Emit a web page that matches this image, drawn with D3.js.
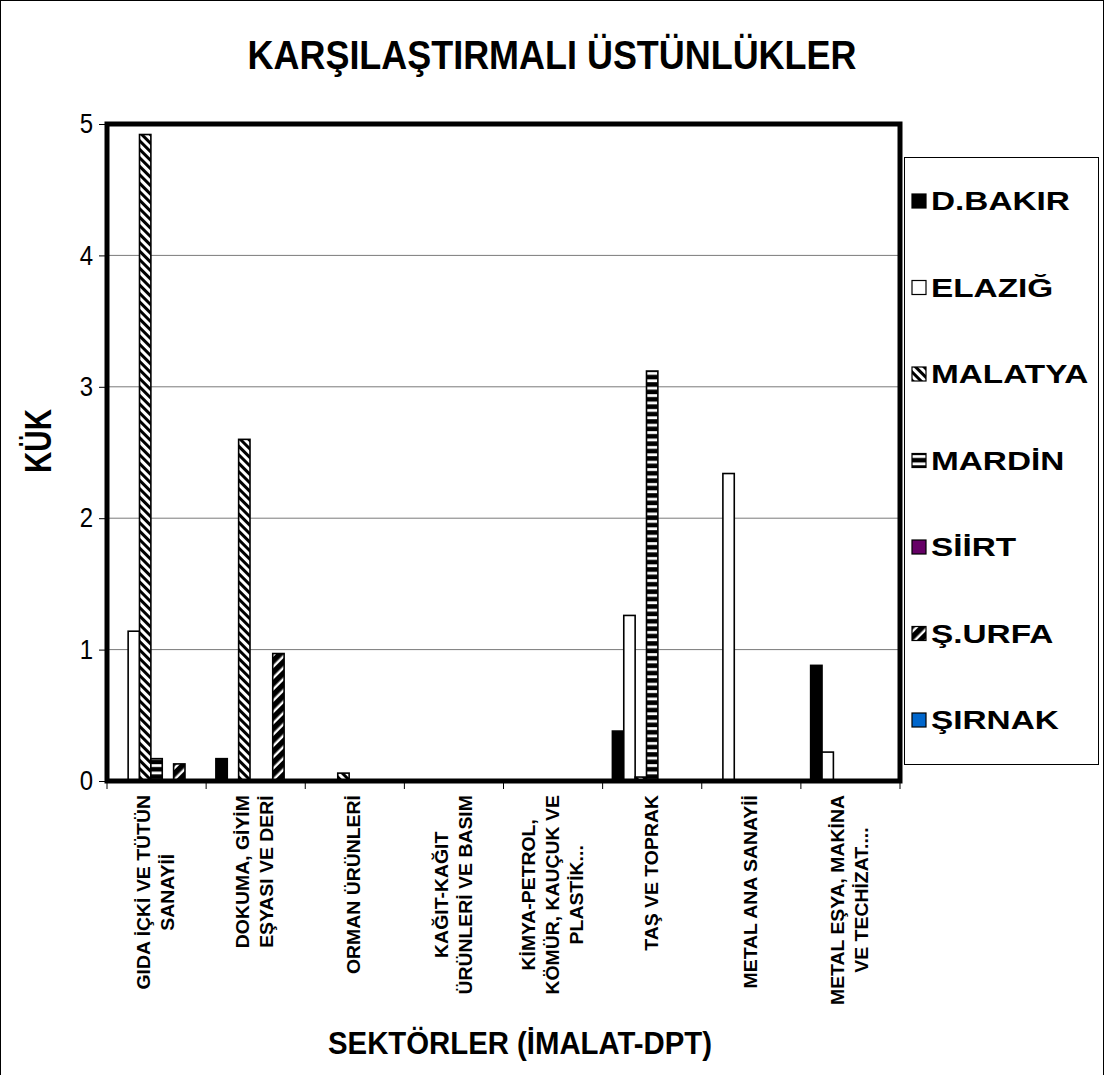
<!DOCTYPE html>
<html>
<head>
<meta charset="utf-8">
<script src="https://cdn.jsdelivr.net/npm/d3@7"></script>
<style>
  html, body { margin: 0; padding: 0; background: #fff; }
  svg { display: block; font-family: "Liberation Sans", Arial, sans-serif; }
</style>
</head>
<body>
<svg id="chart" width="1105" height="1075"></svg>
<script>
// Sector categories (manufacturing, DPT classification)
const categories = ["GIDA", "DOKUMA", "ORMAN", "KAGIT", "KIMYA", "TAS", "METALANA", "METALESYA"];
const categoryLabels = [
  ["GIDA İÇKİ VE TÜTÜN", "SANAYİİ"],
  ["DOKUMA, GİYİM", "EŞYASI VE DERİ"],
  ["ORMAN ÜRÜNLERİ"],
  ["KAĞIT-KAĞIT", "ÜRÜNLERİ  VE BASIM"],
  ["KİMYA-PETROL,", "KÖMÜR, KAUÇUK VE", "PLASTİK..."],
  ["TAŞ VE TOPRAK"],
  ["METAL ANA SANAYİİ"],
  ["METAL EŞYA, MAKİNA", "VE TECHİZAT...."]
];

// Province series (comparative advantage index per sector)
const seriesNames = ["D.BAKIR", "ELAZIĞ", "MALATYA", "MARDİN", "SİİRT", "Ş.URFA", "ŞIRNAK"];
const dbakir  = [0,    0.17, 0,    0, 0, 0.38, 0,    0.88];
const elazig  = [1.14, 0,    0,    0, 0, 1.26, 2.34, 0.22];
const malatya = [4.92, 2.60, 0.06, 0, 0, 0.03, 0,    0];
const mardin  = [0.17, 0,    0,    0, 0, 3.12, 0,    0];
const siirt   = [0,    0,    0,    0, 0, 0,    0,    0];
const surfa   = [0.13, 0.97, 0,    0, 0, 0,    0,    0];
const sirnak  = [0,    0,    0,    0, 0, 0,    0,    0];
const yTicks = [0, 1, 2, 3, 4, 5];

const seriesValues = [dbakir, elazig, malatya, mardin, siirt, surfa, sirnak];
const seriesFills = ["#000000", "#ffffff", "url(#pat-malatya)", "url(#pat-mardin)",
                     "#660066", "url(#pat-surfa)", "#0066cc"];

const svg = d3.select("#chart");

// ---- fill patterns ----
const defs = svg.append("defs");
const pMal = defs.append("pattern").attr("id", "pat-malatya")
  .attr("patternUnits", "userSpaceOnUse").attr("width", 6).attr("height", 6)
  .attr("patternTransform", "rotate(-45)");
pMal.append("rect").attr("width", 6).attr("height", 6).attr("fill", "#fff");
pMal.append("rect").attr("width", 3).attr("height", 6).attr("fill", "#000");

const pSur = defs.append("pattern").attr("id", "pat-surfa")
  .attr("patternUnits", "userSpaceOnUse").attr("width", 8).attr("height", 8)
  .attr("patternTransform", "rotate(45)");
pSur.append("rect").attr("width", 8).attr("height", 8).attr("fill", "#fff");
pSur.append("rect").attr("width", 5.6).attr("height", 8).attr("fill", "#000");

const pMar = defs.append("pattern").attr("id", "pat-mardin")
  .attr("patternUnits", "userSpaceOnUse").attr("width", 10).attr("height", 7.4);
pMar.append("rect").attr("width", 10).attr("height", 7.4).attr("fill", "#000");
pMar.append("rect").attr("y", 2).attr("width", 10).attr("height", 2.8).attr("fill", "#fff");

// ---- outer chart frame ----
svg.append("rect").attr("x", 0.5).attr("y", 0.5).attr("width", 1103).attr("height", 1110)
  .attr("fill", "#fff").attr("stroke", "#000").attr("stroke-width", 1);

// ---- scales ----
const plot = { left: 107, right: 900, top: 124, bottom: 781 };
const x0 = d3.scaleBand().domain(categories).range([plot.left, plot.right]).padding(0);
const x1 = d3.scaleBand().domain(seriesNames).range([0, x0.bandwidth()])
  .paddingInner(0).paddingOuter(0.86);
const y = d3.scaleLinear().domain([0, 5]).range([plot.bottom, plot.top]);

// ---- gridlines ----
svg.append("g").selectAll("line").data(yTicks.filter(t => t > 0 && t < 5)).join("line")
  .attr("x1", plot.left).attr("x2", plot.right)
  .attr("y1", d => y(d)).attr("y2", d => y(d))
  .attr("stroke", "#7a7a7a").attr("stroke-width", 1);

// ---- y axis ----
const yAxis = svg.append("g").attr("transform", `translate(${plot.left},0)`)
  .call(d3.axisLeft(y).tickValues(yTicks).tickSize(8).tickPadding(6).tickFormat(d3.format("d")));
yAxis.select(".domain").remove();
yAxis.selectAll(".tick line").attr("stroke", "#000");
yAxis.selectAll(".tick text")
  .attr("font-size", 24).attr("fill", "#000")
  .attr("transform", "scale(1,1.12)");

// ---- bars ----
const barData = (i) => seriesNames.map((s, k) => ({ key: s, value: seriesValues[k][i], fill: seriesFills[k] }))
  .filter(d => d.value > 0);
svg.append("g").selectAll("g").data(categories).join("g")
  .attr("transform", c => `translate(${x0(c)},0)`)
  .selectAll("rect").data((c, i) => barData(i)).join("rect")
  .attr("x", d => x1(d.key))
  .attr("width", x1.bandwidth())
  .attr("y", d => y(d.value))
  .attr("height", d => y(0) - y(d.value))
  .attr("fill", d => d.fill)
  .attr("stroke", "#000").attr("stroke-width", 1.6);

// ---- x tick marks at category boundaries ----
const bounds = categories.map(c => x0(c)).concat([plot.right]);
svg.append("g").selectAll("line").data(bounds).join("line")
  .attr("x1", d => d).attr("x2", d => d)
  .attr("y1", plot.bottom).attr("y2", plot.bottom + 8)
  .attr("stroke", "#000").attr("stroke-width", 1);

// ---- plot frame ----
svg.append("rect")
  .attr("x", plot.left).attr("y", plot.top)
  .attr("width", plot.right - plot.left).attr("height", plot.bottom - plot.top)
  .attr("fill", "none").attr("stroke", "#000").attr("stroke-width", 5);

// ---- category labels (rotated, centred lines) ----
const labelSize = 18.5, labelStretch = 1.05, lineGap = 24, labelTop = 795;
categories.forEach((c, i) => {
  const lines = categoryLabels[i];
  const cx = x0(c) + x0.bandwidth() / 2;
  const g = svg.append("g");
  const texts = g.selectAll("text").data(lines).join("text")
    .attr("font-size", labelSize).attr("font-weight", "bold")
    .attr("text-anchor", "middle").attr("fill", "#000")
    .attr("dy", "0.36em")
    .text(d => d);
  const maxLen = d3.max(texts.nodes(), n => n.getComputedTextLength());
  g.attr("transform", `translate(${cx - 1},${labelTop}) rotate(-90) scale(${labelStretch},1)`);
  texts.attr("x", -maxLen / 2)
    .attr("y", (d, j) => (j - (lines.length - 1) / 2) * lineGap);
});

// ---- titles ----
function fitText(sel, width) {
  const n = sel.node().getComputedTextLength();
  return width / n;
}
const title = svg.append("text").text("KARŞILAŞTIRMALI ÜSTÜNLÜKLER")
  .attr("font-size", 41).attr("font-weight", "bold").attr("text-anchor", "middle");
title.attr("transform", `translate(552,69) scale(${fitText(title, 609)},1)`);

const xTitle = svg.append("text").text("SEKTÖRLER (İMALAT-DPT)")
  .attr("font-size", 32).attr("font-weight", "bold").attr("text-anchor", "middle");
xTitle.attr("transform", `translate(520,1054) scale(${fitText(xTitle, 384)},1)`);

const yTitle = svg.append("text").text("KÜK")
  .attr("font-size", 36).attr("font-weight", "bold").attr("text-anchor", "middle");
yTitle.attr("transform", `translate(51,441) rotate(-90) scale(${fitText(yTitle, 64)},1)`);

// ---- legend ----
const legend = svg.append("g");
legend.append("rect").attr("x", 904.5).attr("y", 157.5).attr("width", 194).attr("height", 607)
  .attr("fill", "#fff").attr("stroke", "#000").attr("stroke-width", 1);
const ly = d3.scalePoint().domain(seriesNames).range([201, 720]);
const items = legend.selectAll("g.item").data(seriesNames).join("g")
  .attr("transform", s => `translate(912,${ly(s)})`);
items.append("rect").attr("x", 0).attr("y", -7).attr("width", 14).attr("height", 14)
  .attr("fill", (s, k) => seriesFills[k]).attr("stroke", "#000").attr("stroke-width", 1.2);
const ltext = items.append("text").text(s => s)
  .attr("font-size", 26).attr("font-weight", "bold").attr("dy", "0.36em");
const lScale = 139 / ltext.filter(s => s === "D.BAKIR").node().getComputedTextLength();
ltext.attr("transform", `translate(19,0) scale(${lScale},1)`);
</script>
</body>
</html>
